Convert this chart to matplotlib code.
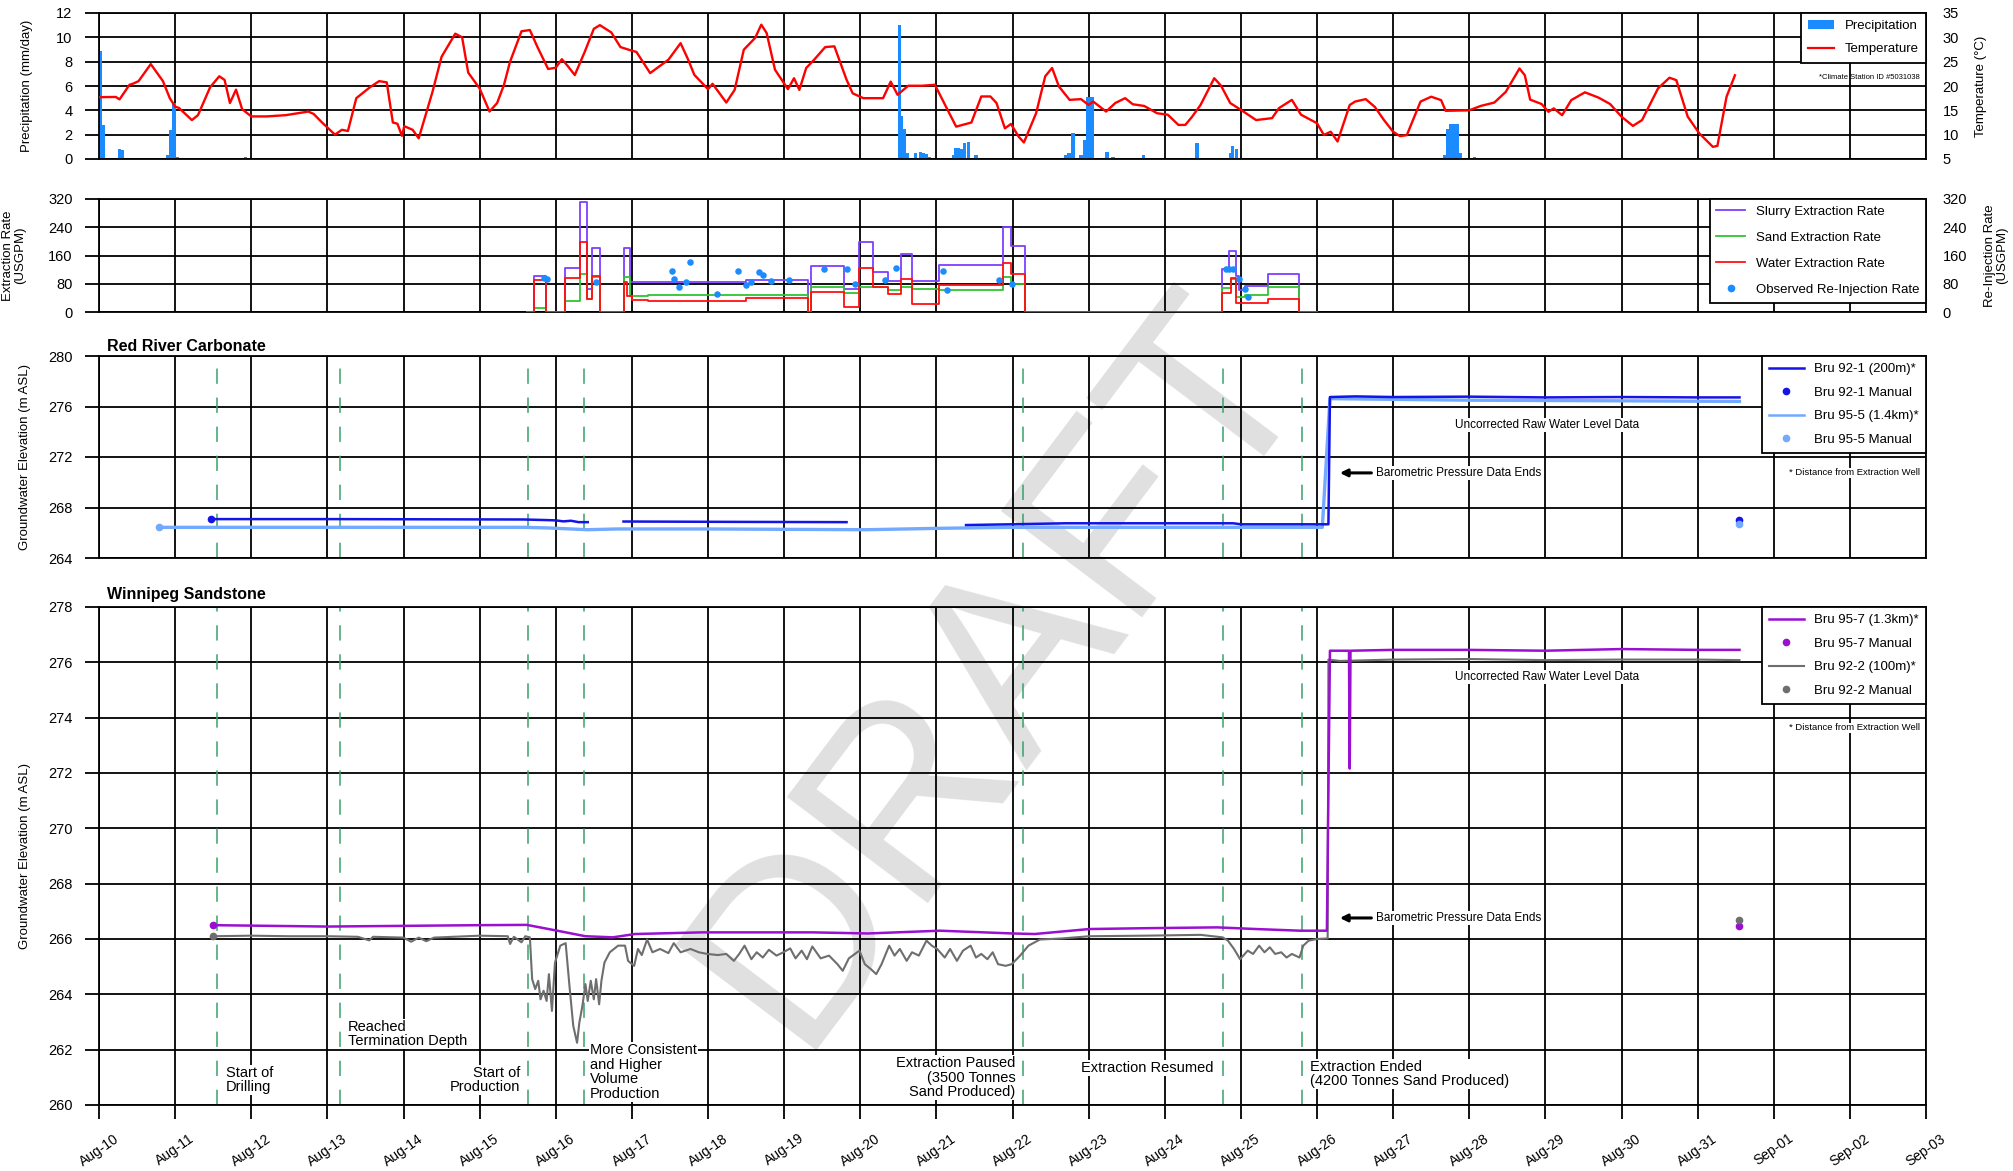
import numpy as np
import matplotlib
matplotlib.use("Agg")
import matplotlib.pyplot as plt
from matplotlib.lines import Line2D
from matplotlib.patches import Patch

NARROW = ["Liberation Sans Narrow", "Liberation Sans", "DejaVu Sans"]
REG = ["Liberation Sans", "DejaVu Sans"]
plt.rcParams["font.family"] = NARROW

# ---------------- data (x = day of August; Sep-01 = 32) ----------------
tick_days = list(range(10, 35))
tick_labels = ["Aug-%02d" % d for d in range(10, 32)] + ["Sep-01", "Sep-02", "Sep-03"]

precip_day = [10.0, 10.04, 10.25, 10.28, 10.88, 10.92, 10.96, 11.0, 11.9,
              20.49, 20.52, 20.56, 20.6, 20.7, 20.77, 20.81, 20.85, 20.88,
              21.2, 21.23, 21.27, 21.3, 21.35, 21.4, 21.5,
              22.67, 22.72, 22.77, 22.88, 22.92, 22.97, 23.02, 23.22, 23.3, 23.7,
              24.4, 24.84, 24.87, 24.92,
              27.65, 27.7, 27.74, 27.78, 27.82, 27.86, 28.05]
precip_mm = [8.9, 2.8, 0.8, 0.7, 0.3, 2.4, 4.6, 0.2, 0.2,
             11.0, 3.5, 2.5, 0.5, 0.5, 0.6, 0.5, 0.4, 0.2,
             0.3, 0.9, 0.9, 0.8, 1.3, 1.4, 0.3,
             0.3, 0.5, 2.1, 0.3, 1.6, 5.1, 5.1, 0.6, 0.2, 0.35,
             1.35, 0.5, 1.1, 0.8,
             0.3, 2.5, 2.9, 2.9, 2.9, 0.5, 0.2]

temp_day = [10.0, 10.22, 10.27, 10.4, 10.45, 10.52, 10.68, 10.84, 10.93, 11.0, 11.05, 11.22, 11.3,
            11.46, 11.58, 11.65, 11.72, 11.8, 11.88, 12.0, 12.2, 12.45, 12.75, 12.82, 12.93, 13.1,
            13.19, 13.27, 13.38, 13.56, 13.68, 13.78, 13.86, 13.92, 13.98, 14.01, 14.12, 14.2, 14.38,
            14.5, 14.68, 14.77, 14.85, 15.0, 15.13, 15.23, 15.32, 15.4, 15.55, 15.66, 15.76, 15.9,
            16.0, 16.08, 16.15, 16.25, 16.38, 16.5, 16.58, 16.73, 16.85, 17.0, 17.06, 17.24,
            17.48, 17.64, 17.74, 17.82, 18.0, 18.06, 18.24, 18.35, 18.47, 18.62, 18.7, 18.77, 18.88,
            19.05, 19.13, 19.2, 19.29, 19.4, 19.54, 19.66, 19.74, 19.82, 19.9, 20.04, 20.3, 20.4,
            20.49, 20.63, 20.81, 20.98, 21.08, 21.17, 21.26, 21.46, 21.59, 21.71, 21.79, 21.9, 21.98,
            22.08, 22.15, 22.31, 22.43, 22.52, 22.61, 22.75, 22.9, 23.0, 23.06, 23.23, 23.35, 23.48,
            23.58, 23.73, 23.9, 24.04, 24.18, 24.27, 24.36, 24.47, 24.65, 24.74, 24.86, 25.0, 25.2,
            25.41, 25.5, 25.67, 25.79, 26.0, 26.09, 26.18, 26.27, 26.43, 26.5, 26.64, 26.76, 26.88,
            27.0, 27.09, 27.18, 27.36, 27.5, 27.63, 27.69, 28.0, 28.15, 28.33, 28.48, 28.66, 28.73,
            28.8, 28.95, 29.04, 29.11, 29.22, 29.34, 29.52, 29.7, 29.85, 30.0, 30.15, 30.27, 30.48,
            30.63, 30.72, 30.87, 31.02, 31.2, 31.26, 31.38, 31.49]
temp_c = [17.7, 17.75, 17.25, 20.25, 20.5, 21.0, 24.5, 21.0, 17.5, 15.75, 15.5, 13.0, 14.0,
          19.75, 22.0, 21.25, 16.5, 19.25, 15.25, 13.75, 13.75, 14.0, 14.75, 14.25, 12.5, 10.0,
          11.0, 10.75, 17.5, 19.75, 21.0, 20.75, 12.5, 12.25, 9.75, 11.75, 11.0, 9.25, 18.75,
          26.0, 30.75, 30.0, 22.75, 19.5, 14.75, 16.5, 20.25, 25.0, 31.25, 31.5, 28.0, 23.5,
          23.75, 25.5, 24.25, 22.25, 27.0, 31.75, 32.5, 31.0, 28.0, 27.25, 27.0, 22.65,
          25.4, 28.8, 25.4, 22.3, 19.35, 20.45, 16.6, 19.2, 27.45, 29.9, 32.6, 30.9, 23.35,
          19.35, 21.6, 19.2, 23.7, 25.5, 28.0, 28.15, 24.7, 21.3, 18.5, 17.5, 17.5, 20.9,
          18.2, 20.05, 20.05, 20.25, 17.15, 14.4, 11.65, 12.5, 17.85, 17.85, 16.5, 11.3, 12.2,
          9.6, 8.4, 14.4, 22.0, 23.7, 19.9, 17.15, 17.3, 16.1, 16.8, 14.75, 16.5, 17.5,
          16.25, 15.9, 14.4, 14.1, 12.0, 12.0, 13.7, 16.1, 21.6, 20.05, 16.5, 15.1, 13.0,
          13.4, 15.45, 17.15, 14.1, 12.35, 9.95, 10.6, 8.6, 16.1, 16.8, 17.3, 15.7, 13.0,
          10.6, 9.7, 9.9, 16.8, 17.8, 17.1, 14.9, 15.0, 15.9, 16.6, 18.8, 23.6, 22.2,
          17.2, 16.3, 14.7, 15.4, 14.0, 17.1, 18.7, 17.6, 16.3, 13.7, 11.8, 13.0, 19.5,
          21.7, 21.2, 13.7, 10.3, 7.5, 7.7, 17.8, 22.2]

slurry_day = [15.62, 15.71, 15.87, 16.12, 16.32, 16.41, 16.48, 16.58, 16.89, 16.97, 18.5, 19.31, 19.35,
              19.78, 19.99, 20.17, 20.37, 20.53, 20.68, 21.03, 21.88, 21.98, 22.16, 24.75, 24.85,
              24.93, 24.97, 25.05, 25.36, 25.76, 26.0]
slurry_gpm = [0, 101, 0, 124, 311, 65, 180, 0, 180, 86, 92, 0, 129,
              65, 198, 112, 89, 164, 89, 133, 241, 187, 0, 122, 173,
              103, 61, 75, 108, 0, 0]
sand_day = [15.62, 15.71, 15.87, 16.12, 16.32, 16.41, 16.48, 16.58, 16.89, 16.97, 17.21, 19.31, 19.35,
            19.78, 19.99, 20.37, 20.53, 20.68, 21.03, 21.88, 21.98, 22.16, 24.75, 24.87, 24.93,
            25.05, 25.36, 25.76, 26.0]
sand_gpm = [0, 11, 0, 32, 108, 37, 100, 0, 98, 45, 49, 0, 70,
            54, 70, 61, 70, 65, 61, 98, 80, 0, 67, 94, 42,
            49, 70, 0, 0]
water_day = [15.62, 15.71, 15.87, 16.12, 16.32, 16.41, 16.48, 16.58, 16.89, 16.94, 17.0, 17.21, 18.5,
             19.31, 19.35, 19.78, 19.99, 20.17, 20.37, 20.53, 20.68, 21.03, 21.88, 21.98, 22.16,
             24.75, 24.87, 24.93, 25.36, 25.76, 26.0]
water_gpm = [0, 92, 0, 95, 199, 37, 103, 0, 84, 45, 35, 30, 39,
             0, 58, 14, 126, 70, 51, 94, 23, 77, 138, 108, 0,
             54, 95, 26, 36, 0, 0]
reinj_day = [15.85, 15.89, 16.53, 17.53, 17.55, 17.62, 17.71, 17.77, 18.12, 18.4, 18.5, 18.56, 18.67,
             18.72, 18.83, 19.06, 19.53, 19.82, 19.93, 20.32, 20.47, 21.09, 21.14, 21.82, 21.99,
             24.8, 24.85, 24.9, 24.97, 25.06, 25.1]
reinj_gpm = [96, 94, 84, 117, 93, 70, 86, 142, 50, 117, 77, 84, 114,
             105, 89, 92, 122, 122, 80, 92, 126, 117, 61, 92, 80,
             122, 122, 122, 94, 65, 42]

bru921_day = [11.47, 13.16, 15.58, 15.9, 16.0, 16.1, 16.2, 16.3, 16.42, np.nan, 16.89, 18.41, 19.82,
              np.nan, 21.39, 22.08, 22.7, 24.9, 25.0, 26.15, 26.17, 26.5, 27.0, 28.0, 29.0, 30.0,
              31.0, 31.55]
bru921_m = [267.08, 267.08, 267.05, 267.0, 266.98, 266.9, 266.95, 266.84, 266.84, np.nan, 266.89,
            266.86, 266.84, np.nan, 266.61, 266.68, 266.75, 266.75, 266.67, 266.67, 276.75, 276.8,
            276.75, 276.78, 276.72, 276.75, 276.72, 276.72]
bru921_man_day = [11.47, 31.55]
bru921_man_m = [267.1, 266.98]
bru955_day = [10.79, 13.0, 15.58, 15.9, 16.42, 16.8, 18.0, 20.08, 21.03, 22.0, 26.07, 26.17, 26.5,
              28.0, 30.0, 31.55]
bru955_m = [266.43, 266.43, 266.43, 266.38, 266.24, 266.3, 266.3, 266.24, 266.35, 266.43, 266.43,
            276.62, 276.6, 276.5, 276.45, 276.4]
bru955_man_day = [10.79, 31.55]
bru955_man_m = [266.43, 266.67]

bru957_day = [11.5, 13.0, 15.0, 15.62, 16.02, 16.39, 16.75, 17.04, 17.92, 19.37, 20.1, 21.05, 22.0,
              22.29, 23.01, 23.74, 24.69, 25.2, 25.78, 26.13, 26.17, 26.42, 26.43, 26.44, 27.0,
              28.0, 29.0, 30.0, 31.0, 31.55]
bru957_m = [266.5, 266.45, 266.5, 266.51, 266.3, 266.1, 266.06, 266.18, 266.24, 266.24, 266.2, 266.3,
            266.2, 266.18, 266.36, 266.39, 266.42, 266.36, 266.3, 266.3, 276.42, 276.42, 272.16,
            276.42, 276.45, 276.45, 276.42, 276.48, 276.45, 276.45]
bru957_man_day = [11.5, 31.55]
bru957_man_m = [266.5, 266.48]
bru922_day = [11.5, 12.0, 12.5, 13.0, 13.4, 13.55, 13.6, 14.0, 14.1, 14.2, 14.3, 14.4, 15.0, 15.37,
              15.4, 15.45, 15.55, 15.6, 15.66, 15.69, 15.73, 15.77, 15.8, 15.84, 15.88, 15.91, 15.95,
              15.99, 16.06, 16.13, 16.18, 16.23, 16.28, 16.31, 16.35, 16.39, 16.42, 16.46, 16.5,
              16.53, 16.57, 16.6, 16.64, 16.71, 16.82, 16.91, 16.95, 17.03, 17.08, 17.13, 17.2,
              17.27, 17.37, 17.48, 17.55, 17.64, 17.77, 17.88, 17.99, 18.13, 18.24, 18.34, 18.41,
              18.48, 18.57, 18.64, 18.72, 18.8, 18.9, 18.99, 19.08, 19.15, 19.23, 19.3, 19.37,
              19.48, 19.59, 19.7, 19.77, 19.85, 19.99, 20.06, 20.14, 20.21, 20.28, 20.38, 20.45,
              20.52, 20.61, 20.68, 20.77, 20.87, 20.94, 21.01, 21.11, 21.18, 21.27, 21.35, 21.45,
              21.52, 21.59, 21.67, 21.74, 21.81, 21.91, 21.99, 22.1, 22.21, 22.36, 22.65, 23.01,
              23.74, 24.47, 24.76, 24.83, 24.91, 24.99, 25.09, 25.16, 25.24, 25.31, 25.38, 25.45,
              25.53, 25.6, 25.67, 25.77, 25.82, 25.89, 26.0, 26.14, 26.15, 26.3, 27.0, 28.0, 29.0,
              30.0, 31.0, 31.55]
bru922_m = [266.1, 266.12, 266.1, 266.1, 266.08, 265.95, 266.08, 266.05, 265.9, 266.05, 265.92, 266.05,
            266.12, 266.1, 265.82, 266.08, 265.88, 266.1, 266.06, 264.55, 264.19, 264.49, 263.82,
            264.13, 263.76, 264.73, 263.4, 265.15, 265.76, 265.85, 264.31, 262.86, 262.25, 262.98,
            263.58, 264.37, 263.76, 264.49, 263.82, 264.55, 263.64, 264.49, 265.15, 265.52, 265.76,
            265.76, 265.21, 265.03, 265.64, 265.42, 265.98, 265.52, 265.64, 265.49, 265.85, 265.52,
            265.64, 265.52, 265.46, 265.42, 265.46, 265.21, 265.46, 265.76, 265.27, 265.52, 265.33,
            265.61, 265.4, 265.52, 265.66, 265.3, 265.58, 265.27, 265.73, 265.3, 265.4, 265.09,
            264.85, 265.3, 265.58, 265.09, 264.91, 264.73, 265.09, 265.76, 265.4, 265.64, 265.21,
            265.52, 265.4, 265.94, 265.76, 265.64, 265.33, 265.64, 265.21, 265.58, 265.76, 265.33,
            265.46, 265.27, 265.52, 265.09, 265.03, 265.09, 265.4, 265.76, 265.98, 266.02, 266.1,
            266.12, 266.15, 266.06, 265.94, 265.64, 265.27, 265.58, 265.46, 265.76, 265.52, 265.7,
            265.46, 265.52, 265.33, 265.46, 265.33, 265.76, 265.94, 266.0, 266.02, 276.1, 276.05,
            276.1, 276.12, 276.08, 276.1, 276.1, 276.08]
bru922_man_day = [11.5, 31.55]
bru922_man_m = [266.1, 266.7]

event_day = [11.55, 13.17, 15.64, 16.37, 22.14, 24.77, 25.80]
event_text = ["Start of\nDrilling", "Reached\nTermination Depth", "Start of\nProduction",
              "More Consistent\nand Higher\nVolume\nProduction",
              "Extraction Paused\n(3500 Tonnes\nSand Produced)", "Extraction Resumed",
              "Extraction Ended\n(4200 Tonnes Sand Produced)"]

# ---------------- colours ----------------
C_PRE = "#1a8cff"
C_TMP = "#ff0000"
C_SLU = "#7f3fff"
C_SAN = "#2fc42f"
C_WAT = "#ff1010"
C_INJ = "#1a8cff"
C_921 = "#1414e6"
C_955 = "#73a9ff"
C_957 = "#9a0fd0"
C_922 = "#6e6e6e"
C_EVT = "#3aa06a"

# ---------------- figure ----------------
fig = plt.figure(figsize=(20.13, 11.71), dpi=100)
fig.patch.set_facecolor("white")


def rect(top, bot):
    return [99 / 2013, 1 - bot / 1171, 1827 / 2013, (bot - top) / 1171]


ax1 = fig.add_axes(rect(13, 159))
ax2 = fig.add_axes(rect(199, 312))
ax3 = fig.add_axes(rect(356, 558))
ax4 = fig.add_axes(rect(607, 1105))

fig.text(0.497, 0.43, "DRAFT", rotation=53, fontsize=185, color="#e0e0e0",
         ha="center", va="center", family=REG, zorder=-5)

for ax in (ax1, ax2, ax3, ax4):
    ax.set_facecolor("none")
    ax.set_xlim(10, 34)
    ax.set_xticks(tick_days)
    ax.grid(True, color="black", lw=1.3, zorder=0.5)
    ax.set_axisbelow(True)
    for s in ax.spines.values():
        s.set_color("black")
        s.set_linewidth(1.3)
    ax.tick_params(axis="y", direction="out", length=10, width=1.3, pad=9,
                   labelsize=10.5, colors="black")
    ax.tick_params(axis="x", length=0, labelbottom=False)

ax4.set_xticklabels(tick_labels)
ax4.tick_params(axis="x", direction="out", length=10, width=1.3, pad=9,
                labelbottom=True, labelsize=10, labelrotation=35)

# ---- panel 1: precipitation & temperature ----
ax1.bar(precip_day, precip_mm, width=0.045, align="edge", color=C_PRE, zorder=2)
ax1.set_ylim(0, 12)
ax1.set_yticks(range(0, 13, 2))
ax1.set_ylabel("Precipitation (mm/day)", family=REG, fontsize=9.5)
ax1.yaxis.set_label_coords(-0.036, 0.5)
ax1r = ax1.twinx()
ax1r.plot(temp_day, temp_c, color=C_TMP, lw=1.7, zorder=3)
ax1r.set_ylim(5, 35)
ax1r.set_yticks(range(5, 36, 5))
ax1r.tick_params(axis="y", length=0, pad=12, labelsize=10.5)
ax1r.set_ylabel("Temperature (\u00b0C)", family=REG, fontsize=9.5)
ax1r.yaxis.set_label_coords(1.027, 0.5)
for s in ax1r.spines.values():
    s.set_visible(False)
leg1 = ax1r.legend([Patch(facecolor=C_PRE), Line2D([], [], color=C_TMP, lw=1.6)],
                   ["Precipitation", "Temperature"], loc="upper right", borderaxespad=0,
                   fancybox=False, edgecolor="black", framealpha=1, fontsize=9.5,
                   labelspacing=0.8, handlelength=2.0, borderpad=0.55)
leg1.get_frame().set_linewidth(1.3)
ax1r.text(0.9967, 0.56, "*Climate Station ID #5031038", transform=ax1r.transAxes,
          ha="right", va="center", fontsize=5.5)

# ---- panel 2: extraction ----
ax2.step(slurry_day, slurry_gpm, where="post", color=C_SLU, lw=1.3, zorder=3)
ax2.step(sand_day, sand_gpm, where="post", color=C_SAN, lw=1.3, zorder=3)
ax2.step(water_day, water_gpm, where="post", color=C_WAT, lw=1.3, zorder=3)
ax2.set_ylim(0, 320)
ax2.set_yticks(range(0, 321, 80))
ax2.set_ylabel("Extraction Rate\n(USGPM)", family=REG, fontsize=9.5, linespacing=1.0)
ax2.yaxis.set_label_coords(-0.040, 0.5)
ax2r = ax2.twinx()
ax2r.scatter(reinj_day, reinj_gpm, s=22, color=C_INJ, zorder=4, linewidths=0)
ax2r.set_ylim(0, 320)
ax2r.set_yticks(range(0, 321, 80))
ax2r.tick_params(axis="y", length=0, pad=12, labelsize=10.5)
ax2r.set_ylabel("Re-Injection Rate\n(USGPM)", family=REG, fontsize=9.5, linespacing=1.0)
ax2r.yaxis.set_label_coords(1.032, 0.5)
for s in ax2r.spines.values():
    s.set_visible(False)
leg2 = ax2r.legend([Line2D([], [], color=C_SLU, lw=1.3), Line2D([], [], color=C_SAN, lw=1.3),
                    Line2D([], [], color=C_WAT, lw=1.3),
                    Line2D([], [], color=C_INJ, marker="o", ms=4.5, lw=0)],
                   ["Slurry Extraction Rate", "Sand Extraction Rate", "Water Extraction Rate",
                    "Observed Re-Injection Rate"], loc="upper right", borderaxespad=0,
                   fancybox=False, edgecolor="black", framealpha=1, fontsize=9.5,
                   labelspacing=1.05, handlelength=2.2, borderpad=0.5)
leg2.get_frame().set_linewidth(1.3)

# ---- panel 3: Red River Carbonate ----
ax3.plot(bru955_day, bru955_m, color=C_955, lw=2.4, zorder=3)
ax3.plot(bru921_day, bru921_m, color=C_921, lw=1.8, zorder=3)
ax3.plot(bru921_man_day, bru921_man_m, "o", color=C_921, ms=4.5, zorder=4)
ax3.plot(bru955_man_day, bru955_man_m, "o", color=C_955, ms=4.5, zorder=4)
ax3.set_ylim(264, 280)
ax3.set_yticks(range(264, 281, 4))
ax3.set_ylabel("Groundwater Elevation (m ASL)", family=REG, fontsize=9.5)
ax3.yaxis.set_label_coords(-0.037, 0.5)
ax3.text(0.0044, 1.025, "Red River Carbonate", transform=ax3.transAxes, family=REG,
         fontweight="bold", fontsize=11.5, va="baseline", ha="left")
leg3 = ax3.legend([Line2D([], [], color=C_921, lw=1.8),
                   Line2D([], [], color=C_921, marker="o", ms=4.5, lw=0),
                   Line2D([], [], color=C_955, lw=1.8),
                   Line2D([], [], color=C_955, marker="o", ms=4.5, lw=0)],
                  ["Bru 92-1 (200m)*", "Bru 92-1 Manual", "Bru 95-5 (1.4km)*", "Bru 95-5 Manual"],
                  loc="upper right", borderaxespad=0, fancybox=False, edgecolor="black",
                  framealpha=1, prop={"family": REG, "size": 9.5}, labelspacing=0.85,
                  handlelength=2.6, borderpad=0.55)
leg3.get_frame().set_linewidth(1.3)

# ---- panel 4: Winnipeg Sandstone ----
ax4.plot(bru922_day, bru922_m, color=C_922, lw=1.5, zorder=3)
ax4.plot(bru957_day, bru957_m, color=C_957, lw=1.8, zorder=3)
ax4.plot(bru957_man_day, bru957_man_m, "o", color=C_957, ms=4.5, zorder=4)
ax4.plot(bru922_man_day, bru922_man_m, "o", color=C_922, ms=4.5, zorder=4)
ax4.set_ylim(260, 278)
ax4.set_yticks(range(260, 279, 2))
ax4.set_ylabel("Groundwater Elevation (m ASL)", family=REG, fontsize=9.5)
ax4.yaxis.set_label_coords(-0.037, 0.5)
ax4.text(0.0044, 1.016, "Winnipeg Sandstone", transform=ax4.transAxes, family=REG,
         fontweight="bold", fontsize=11.5, va="baseline", ha="left")
leg4 = ax4.legend([Line2D([], [], color=C_957, lw=1.8),
                   Line2D([], [], color=C_957, marker="o", ms=4.5, lw=0),
                   Line2D([], [], color=C_922, lw=1.5),
                   Line2D([], [], color=C_922, marker="o", ms=4.5, lw=0)],
                  ["Bru 95-7 (1.3km)*", "Bru 95-7 Manual", "Bru 92-2 (100m)*", "Bru 92-2 Manual"],
                  loc="upper right", borderaxespad=0, fancybox=False, edgecolor="black",
                  framealpha=1, prop={"family": REG, "size": 9.5}, labelspacing=0.85,
                  handlelength=2.6, borderpad=0.55)
leg4.get_frame().set_linewidth(1.3)

# event lines
for ax in (ax3, ax4):
    for d in event_day:
        ax.axvline(d, color=C_EVT, lw=1.1, ls=(0, (10, 9)), zorder=2)

WB = dict(facecolor="white", edgecolor="none", pad=0.6)
# event annotations (panel 4)
ev_pos = [(11.67, 260.9, "left"), (13.27, 262.57, "left"), (15.53, 260.9, "right"),
          (16.45, 261.2, "left"), (22.04, 260.98, "right"), (24.64, 261.34, "right"),
          (25.91, 261.12, "left")]
for txt, (x, y, ha) in zip(event_text, ev_pos):
    ax4.text(x, y, txt, ha=ha, va="center", multialignment=ha, fontsize=10.5,
             linespacing=1.05, bbox=WB, zorder=5)

# notes panel 3 & 4
for ax, yu, yb, yd in ((ax3, 274.52, 270.74, 270.74), (ax4, 275.47, 266.76, 273.63)):
    ax.text(29.02, yu, "Uncorrected Raw Water Level Data", ha="center", va="center",
            fontsize=8.5, bbox=WB, zorder=5)
    ax.annotate("Barometric Pressure Data Ends", xy=(26.3, yb), xytext=(26.78, yb),
                ha="left", va="center", fontsize=8.5, zorder=5,
                bbox=WB,
                arrowprops=dict(arrowstyle="-|>,head_length=0.5,head_width=0.25",
                                color="black", lw=2.2, shrinkA=3, shrinkB=0))
    ax.text(0.9967, (yd - ax.get_ylim()[0]) / (ax.get_ylim()[1] - ax.get_ylim()[0]),
            "* Distance from Extraction Well", transform=ax.transAxes, ha="right",
            va="center", fontsize=6.8, bbox=WB, zorder=5)

fig.savefig("out.png", dpi=100, facecolor="white")
